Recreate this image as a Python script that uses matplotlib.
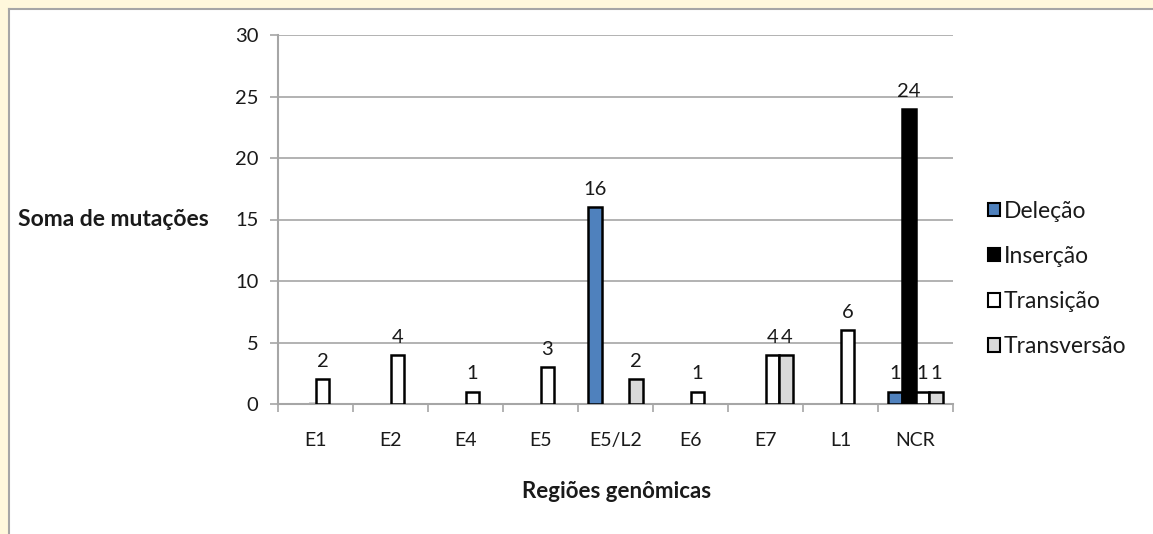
import matplotlib.pyplot as plt
import numpy as np
from matplotlib.patches import Rectangle
from matplotlib.lines import Line2D

regioes = ['E1', 'E2', 'E4', 'E5', 'E5/L2', 'E6', 'E7', 'L1', 'NCR']
series = ['Deleção', 'Inserção', 'Transição', 'Transversão']
delecao = [0, 0, 0, 0, 16, 0, 0, 0, 1]
insercao = [0, 0, 0, 0, 0, 0, 0, 0, 24]
transicao = [2, 4, 1, 3, 0, 1, 4, 6, 1]
transversao = [0, 0, 0, 0, 2, 0, 4, 0, 1]
valores = [delecao, insercao, transicao, transversao]
cores = ['#4f81bd', '#000000', '#ffffff', '#d9d9d9']

plt.rcParams['font.family'] = ['Lato', 'DejaVu Sans']
txt = '#1a1a1a'

fig = plt.figure(figsize=(11.53, 5.34), dpi=100)
W, H = 1153, 534
# moldura (faixa creme + linha cinza)
fig.patches.append(Rectangle((0, 0), 8 / W, 1, transform=fig.transFigure, color='#fff8dc', zorder=0))
fig.patches.append(Rectangle((0, 1 - 8 / H), 1, 8 / H, transform=fig.transFigure, color='#fff8dc', zorder=0))
fig.lines.append(Line2D([8.5 / W, 8.5 / W], [0, 1 - 8.5 / H], transform=fig.transFigure, color='#a6a6a6', lw=1.5))
fig.lines.append(Line2D([8.5 / W, 1], [1 - 8.5 / H, 1 - 8.5 / H], transform=fig.transFigure, color='#a6a6a6', lw=1.5))

ax = fig.add_axes([278 / W, 1 - 404 / H, (953 - 278) / W, (404 - 35) / H])

x = np.arange(len(regioes))
bw = 0.185
for i, (nome, vals, cor) in enumerate(zip(series, valores, cores)):
    pos = x + (i - 1.5) * bw
    for xp, v in zip(pos, vals):
        if v == 0:
            continue
        ax.bar(xp, v, width=bw, color=cor, edgecolor='black', linewidth=1.8, zorder=3)
        ax.text(xp, v + 0.75, str(v), ha='center', va='bottom', fontsize=14.5, color=txt)
    ax.bar([0], [0], width=bw, color=cor, edgecolor='black', linewidth=1.5, label=nome)

ax.set_xlim(-0.5, len(regioes) - 0.5)
ax.set_ylim(0, 30)
ax.set_yticks(range(0, 31, 5))
ax.set_xticks(np.arange(-0.5, len(regioes), 1), minor=False)
ax.set_xticklabels([])
ax.set_xticks(x, minor=True)
ax.set_xticklabels(regioes, minor=True)
ax.tick_params(axis='x', which='minor', length=0, pad=20, labelsize=14, labelcolor=txt)
ax.tick_params(axis='x', which='major', length=6, color='#a6a6a6', width=1.2)
ax.tick_params(axis='y', length=6, color='#a6a6a6', width=1.2, labelsize=14.5, labelcolor=txt, pad=8)
ax.grid(axis='y', color='#a6a6a6', linewidth=1.2, zorder=0)
for s in ['top', 'right']:
    ax.spines[s].set_visible(False)
for s in ['left', 'bottom']:
    ax.spines[s].set_color('#a6a6a6')
    ax.spines[s].set_linewidth(1.5)

fig.text(18 / W, 1 - 220 / H, 'Soma de mutações', fontsize=16.5, fontweight='bold', color=txt, va='center', ha='left')
fig.text(617 / W, 1 - 492 / H, 'Regiões genômicas', fontsize=16, fontweight='bold', color=txt, va='center', ha='center')

leg = fig.legend(loc='upper left', bbox_to_anchor=(967 / W, 1 - 180 / H), frameon=False,
                 fontsize=16.5, handlelength=0.55, handleheight=0.55, handletextpad=0.15, labelspacing=1.05)
for t in leg.get_texts():
    t.set_color(txt)

fig.savefig('out.png', dpi=100, facecolor='white')
